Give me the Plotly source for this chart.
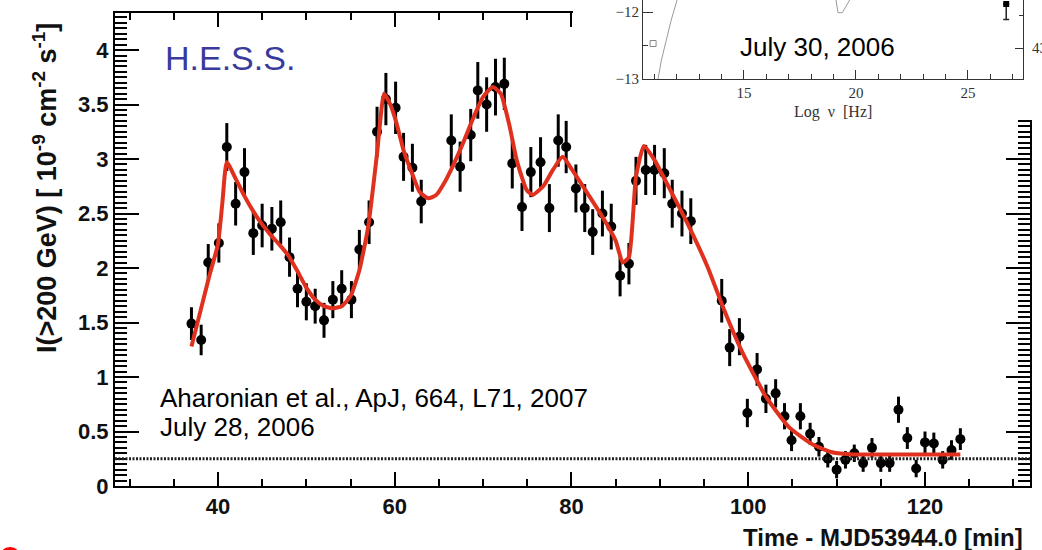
import plotly.graph_objects as go

# ---------------- data ----------------
TIME = [37.0, 38.1, 38.9, 40.1, 41.0, 42.0, 43.0, 44.0, 45.0, 46.1, 47.1, 48.1, 49.0, 50.0,
        51.0, 52.0, 53.0, 54.0, 55.1, 56.0, 57.1, 58.0, 59.0, 60.1, 61.0, 62.0, 63.0,
        66.4, 67.4, 68.6, 69.4, 70.4, 71.4, 72.4, 73.3, 74.4, 75.4, 76.5, 77.5, 78.5, 79.4,
        80.5, 81.5, 82.4, 83.5, 84.5, 85.5, 86.5, 87.3, 88.4, 89.4, 90.5, 91.4, 92.5, 93.5,
        97.0, 97.9, 99.0, 99.9, 101.0, 102.0, 103.1, 104.1, 104.9, 105.9, 107.0, 108.0,
        109.0, 110.0, 111.0, 112.0, 113.0, 114.0, 115.0, 116.0, 117.0, 118.0, 119.0, 120.0,
        121.0, 122.0, 123.0, 124.0]
FLUX = [1.49, 1.34, 2.05, 2.23, 3.11, 2.59, 2.88, 2.32, 2.39, 2.36, 2.42, 2.10, 1.81, 1.69,
        1.65, 1.52, 1.71, 1.81, 1.71, 2.17, 2.42, 3.25, 3.55, 3.47, 3.02, 2.92, 2.61,
        3.17, 2.93, 3.22, 3.63, 3.50, 3.66, 3.69, 2.96, 2.56, 2.88, 2.97, 2.55, 3.17, 3.11,
        2.73, 2.55, 2.33, 2.50, 2.38, 1.93, 2.04, 2.80, 2.90, 2.90, 2.87, 2.59, 2.50, 2.43,
        1.70, 1.27, 1.37, 0.67, 1.07, 0.80, 0.85, 0.64, 0.42, 0.64, 0.48, 0.36,
        0.25, 0.15, 0.24, 0.30, 0.21, 0.35, 0.21, 0.21, 0.70, 0.44, 0.16, 0.40,
        0.39, 0.24, 0.33, 0.43]
FLUX_ERR = [0.15, 0.14, 0.17, 0.18, 0.22, 0.20, 0.22, 0.20, 0.20, 0.20, 0.20, 0.18, 0.17, 0.17,
            0.16, 0.16, 0.17, 0.17, 0.17, 0.18, 0.20, 0.23, 0.24, 0.24, 0.22, 0.22, 0.20,
            0.24, 0.23, 0.24, 0.26, 0.25, 0.26, 0.24, 0.23, 0.22, 0.23, 0.23, 0.22, 0.24, 0.24,
            0.22, 0.22, 0.21, 0.21, 0.21, 0.19, 0.19, 0.22, 0.23, 0.23, 0.23, 0.22, 0.21, 0.21,
            0.20, 0.17, 0.17, 0.13, 0.15, 0.13, 0.13, 0.12, 0.10, 0.12, 0.10, 0.09,
            0.08, 0.08, 0.08, 0.08, 0.08, 0.09, 0.08, 0.08, 0.12, 0.10, 0.08, 0.10,
            0.10, 0.08, 0.09, 0.10]

FIT_T = [37.0, 38.0, 39.0, 40.0, 40.5, 41.0, 42.0, 43.0, 44.0, 45.0, 46.0, 47.0, 48.0, 49.0,
         50.0, 51.0, 52.0, 53.0, 54.0, 55.0, 56.0, 57.0, 58.0, 58.8, 59.5, 60.2, 61.0, 62.0,
         62.8, 63.8, 64.7, 65.6, 66.6, 67.7, 68.8, 70.0, 71.1, 72.0, 73.0, 73.8, 74.9, 75.6,
         76.8, 77.9, 79.0, 80.0, 81.3, 83.5, 85.0, 85.8, 86.5, 87.3, 88.2, 89.4, 91.6, 93.3,
         95.4, 97.3, 99.2, 102.0, 104.6, 107.3, 109.5, 112.0, 118.0, 124.0]
FIT_I = [1.28, 1.60, 1.92, 2.22, 2.60, 2.97, 2.82, 2.66, 2.52, 2.40, 2.30, 2.21, 2.11, 1.97,
         1.82, 1.71, 1.65, 1.63, 1.65, 1.74, 1.98, 2.38, 3.05, 3.60, 3.50, 3.33, 3.08, 2.86,
         2.70, 2.64, 2.67, 2.78, 2.94, 3.14, 3.36, 3.57, 3.66, 3.60, 3.30, 2.99, 2.72, 2.67,
         2.75, 2.90, 3.02, 2.91, 2.75, 2.47, 2.25, 2.05, 2.10, 2.84, 3.12, 2.99, 2.65, 2.38,
         2.01, 1.61, 1.25, 0.82, 0.54, 0.38, 0.31, 0.29, 0.29, 0.29]

BASELINE = 0.25

# inset (SED) content
SED_CURVE1_X = [11.16, 11.31, 11.53, 11.75, 12.01, 12.2]
SED_CURVE1_Y = [-13.0, -12.72, -12.42, -12.12, -11.82, -11.6]
SED_CURVE2_X = [19.0, 19.12, 19.20, 19.39, 19.72, 19.85]
SED_CURVE2_Y = [-11.6, -11.82, -12.01, -12.01, -11.82, -11.6]
SED_OPEN_X = [10.94]
SED_OPEN_Y = [-12.47]
SED_TEV_X = [26.71]
SED_TEV_Y = [-11.88]
SED_TEV_ERR_MINUS = [0.23]

W, H = 1042, 550


def px_x(p):
    return p / W


def px_y(p):
    return 1 - p / H


fig = go.Figure()

# main light curve
fig.add_trace(go.Scatter(
    x=TIME, y=FLUX, mode="markers",
    marker=dict(color="black", size=10),
    error_y=dict(type="data", array=FLUX_ERR, thickness=3, width=0, color="black"),
    showlegend=False, xaxis="x", yaxis="y"))
fig.add_trace(go.Scatter(
    x=FIT_T, y=FIT_I, mode="lines",
    line=dict(color="#e0301e", width=4, shape="spline", smoothing=0.5),
    showlegend=False, xaxis="x", yaxis="y"))

# cover subplot (white box for the inset)
fig.add_trace(go.Scatter(x=[None], y=[None], xaxis="x2", yaxis="y2",
                         showlegend=False, hoverinfo="skip"))

# inset traces
fig.add_trace(go.Scatter(x=SED_CURVE1_X, y=SED_CURVE1_Y, mode="lines",
                         line=dict(color="#9a9a9a", width=1), showlegend=False,
                         xaxis="x3", yaxis="y3"))
fig.add_trace(go.Scatter(x=SED_CURVE2_X, y=SED_CURVE2_Y, mode="lines",
                         line=dict(color="#9a9a9a", width=1), showlegend=False,
                         xaxis="x3", yaxis="y3"))
fig.add_trace(go.Scatter(x=SED_OPEN_X, y=SED_OPEN_Y, mode="markers",
                         marker=dict(symbol="square-open", size=6, color="#888",
                                     line=dict(width=1)),
                         showlegend=False, xaxis="x3", yaxis="y3"))
fig.add_trace(go.Scatter(x=SED_TEV_X, y=SED_TEV_Y, mode="markers",
                         marker=dict(symbol="square", size=6, color="black"),
                         error_y=dict(type="data", symmetric=False, array=[0],
                                      arrayminus=SED_TEV_ERR_MINUS, thickness=1.5,
                                      width=3, color="#222"),
                         showlegend=False, xaxis="x3", yaxis="y3"))
fig.add_trace(go.Scatter(x=[None], y=[None], xaxis="x3", yaxis="y4",
                         showlegend=False, hoverinfo="skip"))

tick_font = dict(family="Liberation Sans, Arial, sans-serif", size=22, color="#111",
                 weight="bold")
serif = dict(family="Liberation Serif, DejaVu Serif, serif", size=15, color="#333")

fig.update_layout(
    width=W, height=H, autosize=False,
    margin=dict(l=0, r=0, t=0, b=0, pad=0, autoexpand=False),
    paper_bgcolor="white", plot_bgcolor="white",
    xaxis=dict(domain=[px_x(115), px_x(1030)], range=[28.35, 131.88], anchor="y",
               showline=True, linewidth=2, linecolor="black", mirror="allticks",
               ticks="inside", ticklen=14, tickwidth=2, tickcolor="black",
               tick0=0, dtick=20, tickfont=tick_font, showgrid=False, zeroline=False,
               automargin=False,
               minor=dict(ticks="inside", ticklen=7, tickwidth=2, tickcolor="black",
                          tick0=0, dtick=5, showgrid=False)),
    yaxis=dict(domain=[px_y(486), px_y(13)], range=[0, 4.34], anchor="x",
               showline=True, linewidth=2, linecolor="black", mirror="allticks",
               ticks="inside", ticklen=24, tickwidth=2, tickcolor="black",
               tick0=0, dtick=0.5, tickfont=tick_font, showgrid=False, zeroline=False,
               automargin=False,
               minor=dict(ticks="inside", ticklen=12, tickwidth=1.5, tickcolor="black",
                          tick0=0, dtick=0.05, showgrid=False)),
    xaxis2=dict(domain=[px_x(573), 1], range=[0, 1], anchor="y2", visible=False),
    yaxis2=dict(domain=[px_y(120), 1], range=[0, 1], anchor="x2", visible=False),
    xaxis3=dict(domain=[px_x(643), px_x(1023)], range=[10.49, 27.46], anchor="y3",
                showline=True, linewidth=1, linecolor="#333", mirror=False,
                ticks="inside", ticklen=9, tickwidth=1, tickcolor="#333",
                tick0=0, dtick=5, tickfont=serif, showgrid=False, zeroline=False,
                automargin=False,
                minor=dict(ticks="inside", ticklen=5, tickwidth=1, tickcolor="#333",
                           tick0=0, dtick=1, showgrid=False)),
    yaxis3=dict(domain=[px_y(79), 1], range=[-13, -11.82], anchor="x3",
                showline=True, linewidth=1, linecolor="#333",
                ticks="inside", ticklen=10, tickwidth=1, tickcolor="#333",
                tick0=0, dtick=1, tickfont=serif, showgrid=False, zeroline=False,
                automargin=False,
                minor=dict(ticks="inside", ticklen=5, tickwidth=1, tickcolor="#333",
                           tick0=0, dtick=0.5, showgrid=False)),
    yaxis4=dict(overlaying="y3", side="right", anchor="x3", range=[42.53, 43.73],
                showline=True, linewidth=1, linecolor="#333",
                ticks="inside", ticklen=8, tickwidth=1, tickcolor="#333",
                tick0=0, dtick=1, tickfont=serif, showgrid=False, zeroline=False,
                ticklabelstandoff=5, automargin=False,
                minor=dict(ticks="inside", ticklen=4, tickwidth=1, tickcolor="#333",
                           tick0=0, dtick=0.5, showgrid=False)),
)

# dotted level
fig.add_shape(type="line", xref="x domain", yref="y", x0=0, x1=1,
              y0=BASELINE, y1=BASELINE,
              line=dict(color="#222", width=3, dash="2px,1.5px"))

# red circle fragment, bottom left
fig.add_shape(type="circle", xref="paper", yref="paper",
              x0=px_x(-1), x1=px_x(21), y0=-0.035, y1=px_y(547),
              fillcolor="#ff0000", line=dict(width=0))

sans = "Liberation Sans, Arial, sans-serif"
annotations = [
    dict(text="I(>200 GeV) [ 10<sup>-9</sup> cm<sup>-2</sup> s<sup>-1</sup>]",
         x=px_x(45), y=px_y(188), textangle=-90, xanchor="center", yanchor="middle",
         font=dict(family=sans, size=27, color="#111", weight="bold")),
    dict(text="Time - MJD53944.0 [min]", x=px_x(1025), y=px_y(537),
         xanchor="right", yanchor="middle",
         font=dict(family=sans, size=24, color="#111", weight="bold")),
    dict(text="H.E.S.S.", x=px_x(163), y=px_y(58), xanchor="left", yanchor="middle",
         font=dict(family=sans, size=34, color="#3a3a9c")),
    dict(text="Aharonian et al., ApJ, 664, L71, 2007", x=px_x(158), y=px_y(398),
         xanchor="left", yanchor="middle", font=dict(family=sans, size=26, color="black")),
    dict(text="July 28, 2006", x=px_x(158), y=px_y(427),
         xanchor="left", yanchor="middle", font=dict(family=sans, size=26, color="black")),
    dict(text="July 30, 2006", x=px_x(738), y=px_y(47),
         xanchor="left", yanchor="middle", font=dict(family=sans, size=26, color="black")),
    dict(text="Log\u00a0 \u03bd\u00a0 [Hz]", x=px_x(833), y=px_y(112),
         xanchor="center", yanchor="middle",
         font=dict(family="Liberation Serif, DejaVu Serif, serif", size=16, color="#333")),
]
for a in annotations:
    a.update(xref="paper", yref="paper", showarrow=False)
fig.update_layout(annotations=annotations)

fig.write_html("out.html",
               config={"displayModeBar": False, "responsive": False},
               post_script="document.body.style.margin='0';"
                           "document.body.style.overflow='hidden';")
